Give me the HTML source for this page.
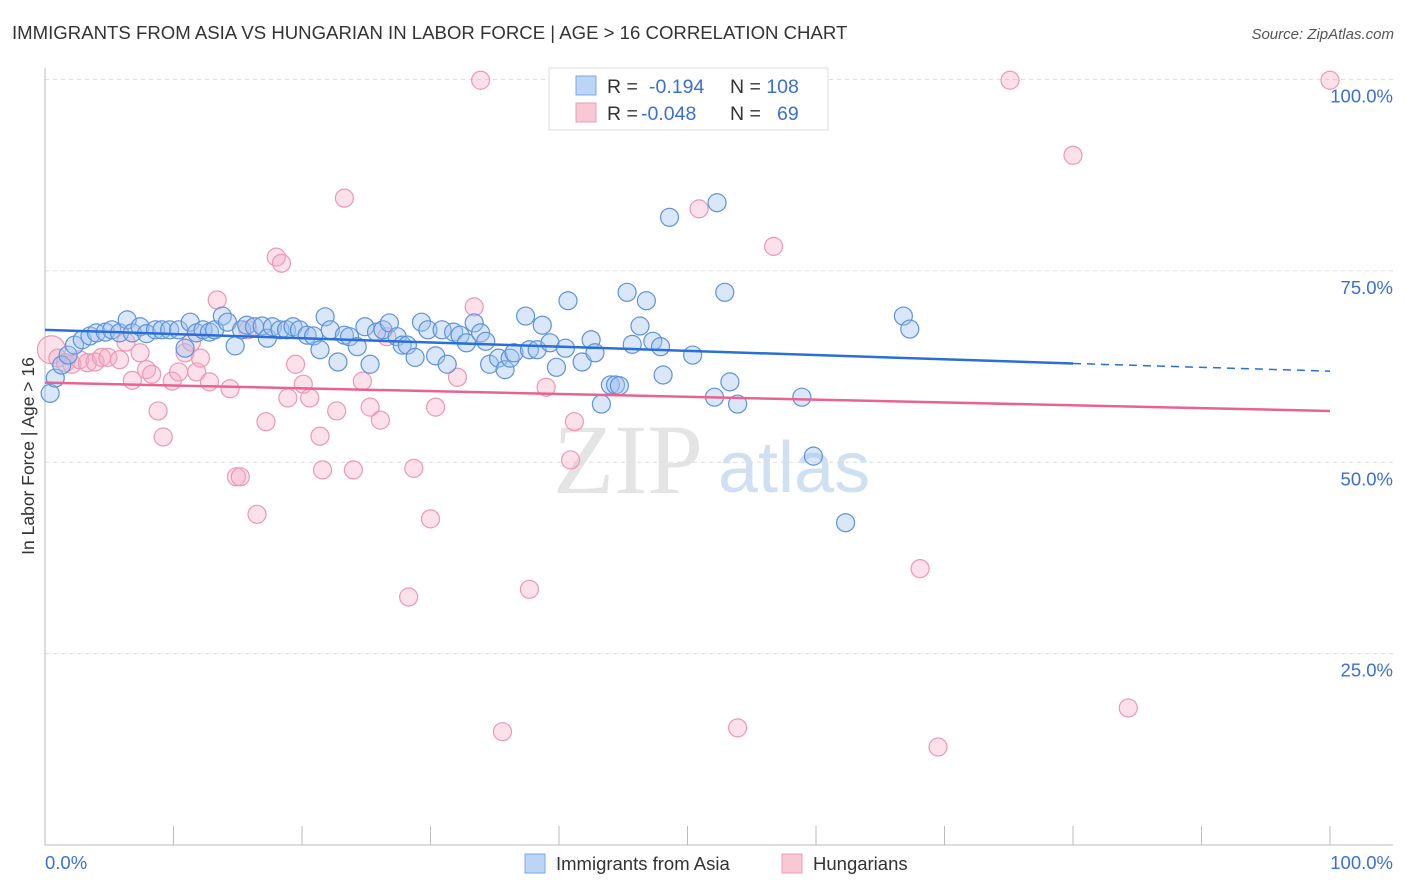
<!DOCTYPE html>
<html><head><meta charset="utf-8"><style>
body{margin:0;background:#fff;font-family:"Liberation Sans",sans-serif;}
svg{display:block}
</style></head><body>
<svg id="chart" width="1406" height="892" viewBox="0 0 1406 892" xmlns="http://www.w3.org/2000/svg">
<text x="12" y="39" font-size="18.6" fill="#333">IMMIGRANTS FROM ASIA VS HUNGARIAN IN LABOR FORCE | AGE &gt; 16 CORRELATION CHART</text>
<text x="1394" y="39" font-size="15" fill="#555" font-style="italic" text-anchor="end">Source: ZipAtlas.com</text>
<g>
<text x="553" y="493" font-size="100" font-family="Liberation Serif,serif" fill="#e4e4e4">ZIP</text>
<text x="718" y="492" font-size="72" fill="#cfe0f3">atlas</text>
</g>
<g id="grid"></g>
<g id="axes"></g>
<g id="pts"></g>
<g id="lines"></g>
<text x="34" y="456" font-size="17.5" fill="#333" text-anchor="middle" transform="rotate(-90 34 456)">In Labor Force | Age &gt; 16</text>
<g>
<rect x="549" y="68" width="279" height="62" fill="#fff" stroke="#ddd"/>
<rect x="576" y="76" width="20" height="19" fill="#bcd5f5" stroke="#7aa7e6"/>
<rect x="576" y="103" width="20" height="19" fill="#fac7d5" stroke="#ee9bb5"/>
<text x="607" y="93" font-size="19.5" fill="#333">R = <tspan fill="#3b6fd4" x="649">-0.194</tspan></text>
<text x="730" y="93" font-size="19.5" fill="#333">N = <tspan fill="#3b6fd4">108</tspan></text>
<text x="607" y="120" font-size="19.5" fill="#333">R = <tspan fill="#3b6fd4" x="641">-0.048</tspan></text>
<text x="730" y="120" font-size="19.5" fill="#333">N = <tspan fill="#3b6fd4" x="777">69</tspan></text>
</g>
<g>
<rect x="525" y="854" width="20" height="19" fill="#bcd5f5" stroke="#7aa7e6"/>
<text x="556" y="870" font-size="18.5" fill="#333">Immigrants from Asia</text>
<rect x="782" y="854" width="20" height="19" fill="#fac7d5" stroke="#ee9bb5"/>
<text x="813" y="870" font-size="18.5" fill="#333">Hungarians</text>
</g>
</svg>
<script>
const yTicks=[100,75,50,25];
const yTickLabels=["100.0%","75.0%","50.0%","25.0%"];
const xTicks=[10,20,30,40,50,60,70,80,90,100];
const asiaX=[0.4,0.8,1.3,1.8,2.3,2.9,3.5,4.0,4.7,5.2,5.8,6.4,6.8,7.4,7.9,8.6,9.1,9.7,10.4,10.9,11.3,11.8,12.3,12.8,13.2,13.8,14.2,14.8,15.3,15.7,16.3,16.9,17.3,17.7,18.3,18.8,19.3,19.8,20.4,20.9,21.4,21.8,22.2,22.8,23.3,23.7,24.3,24.9,25.3,25.8,26.3,26.8,27.4,27.8,28.2,28.8,29.3,29.8,30.4,30.9,31.3,31.8,32.3,32.8,33.4,33.9,34.3,34.6,35.3,35.8,36.2,36.5,37.4,37.7,38.3,38.7,39.3,39.8,40.5,40.7,41.8,42.5,42.8,43.3,44.0,44.4,44.7,45.3,45.7,46.3,46.8,47.3,47.9,48.1,48.6,50.4,52.1,52.3,52.9,53.3,53.9,58.9,59.8,62.3,66.8,67.3];
const asiaY=[59.0,61.0,62.7,64.0,65.3,66.0,66.5,66.9,67.0,67.3,66.9,68.6,66.9,67.7,66.8,67.3,67.3,67.3,67.3,64.9,68.3,66.9,67.3,67.0,67.3,69.1,68.3,65.2,67.3,67.9,67.7,67.8,66.2,67.7,67.3,67.3,67.7,67.3,66.6,66.5,64.7,69.0,67.3,63.1,66.6,66.4,65.1,67.7,62.8,67.0,67.3,68.2,66.4,65.3,65.3,63.7,68.3,67.3,63.9,67.3,62.8,67.0,66.6,65.6,68.2,66.9,65.8,62.8,63.6,62.1,63.6,64.3,69.1,64.7,64.7,67.9,65.6,62.4,64.9,71.1,63.1,66.0,64.3,57.6,60.1,60.1,60.0,72.2,65.4,67.8,71.1,65.8,65.1,61.4,82.0,64.0,58.5,83.9,72.2,60.5,57.6,58.5,50.8,42.1,69.1,67.4];
const hunX=[0.5,1.0,1.6,2.1,2.7,3.3,3.9,4.4,4.9,5.8,6.3,6.8,7.4,7.9,8.3,8.8,9.2,9.9,10.4,10.9,11.4,11.8,12.1,12.8,13.4,14.4,14.9,15.2,15.8,16.5,17.2,18.0,18.4,18.9,19.5,20.1,20.6,21.4,21.6,22.7,23.3,24.0,24.7,25.3,26.1,26.6,28.3,28.7,30.0,30.4,32.1,33.4,33.9,35.6,37.7,39.0,40.9,41.2,50.9,53.9,56.7,68.1,69.5,75.1,80.0,84.3,100];
const hunY=[64.7,63.6,63.0,62.8,63.4,63.0,63.1,63.7,63.7,63.4,65.7,60.7,64.3,62.1,61.5,56.7,53.3,60.6,61.8,64.3,65.7,61.8,63.6,60.5,71.2,59.6,48.1,48.1,67.3,43.2,55.3,76.8,76.0,58.4,62.8,60.2,58.4,53.4,49.0,56.7,84.5,49.0,60.6,57.2,55.5,66.4,32.4,49.2,42.6,57.2,61.1,70.3,99.9,14.8,33.4,59.8,50.3,55.3,83.1,15.3,78.2,36.1,12.8,99.9,90.1,17.9,99.9];
const asiaTrend=[67.3,62.9,61.9]; // at x=0, 80, 100
const hunTrend=[60.4,56.7]; // at x=0, 100

const NS="http://www.w3.org/2000/svg";
const X=v=>45+v*12.85;
const Y=v=>845-v*7.655;
function mk(tag,attrs,parent){const e=document.createElementNS(NS,tag);for(const k in attrs)e.setAttribute(k,attrs[k]);parent.appendChild(e);return e;}
const grid=document.getElementById('grid'),axes=document.getElementById('axes'),pts=document.getElementById('pts'),lines=document.getElementById('lines');
yTicks.forEach((t,i)=>{
  const l=mk('line',{x1:45,x2:1393,y1:Y(t),y2:Y(t),stroke:'#ddd','stroke-dasharray':'4,4'},grid);
  
  
  const tx=mk('text',{x:1393,y:Y(t)+23,'font-size':18.5,fill:'#3b6fd4','text-anchor':'end'},grid);
  tx.textContent=yTickLabels[i];
  
  
});
let a=mk('line',{x1:45,x2:45,y1:68,y2:845,stroke:'#bbb'},axes);


a=mk('line',{x1:45,x2:1393,y1:845,y2:845,stroke:'#bbb'},axes);


xTicks.forEach(t=>{
  const l=mk('line',{x1:X(t),x2:X(t),y1:826,y2:845,stroke:'#bbb'},axes);
  
  
});
let t0=mk('text',{x:45,y:869,'font-size':18.5,fill:'#3b6fd4'},axes);t0.textContent='0.0%';


let t1=mk('text',{x:1393,y:869,'font-size':18.5,fill:'#3b6fd4','text-anchor':'end'},axes);t1.textContent='100.0%';


hunX.forEach((x,i)=>{
  const c=mk('circle',{cx:X(x),cy:Y(hunY[i]),r:i===0?14:9,fill:'rgba(246,170,195,0.35)',stroke:'#ec98b3','stroke-width':1.2},pts);
  
  
});
asiaX.forEach((x,i)=>{
  const c=mk('circle',{cx:X(x),cy:Y(asiaY[i]),r:9,fill:'rgba(160,195,240,0.4)',stroke:'#5d92de','stroke-width':1.2},pts);
  
  
});
let l=mk('line',{x1:X(0),y1:Y(asiaTrend[0]),x2:X(80),y2:Y(asiaTrend[1]),stroke:'#2a6fd6','stroke-width':2.5},lines);


l=mk('line',{x1:X(80),y1:Y(asiaTrend[1]),x2:X(100),y2:Y(asiaTrend[2]),stroke:'#2a6fd6','stroke-width':1.5,'stroke-dasharray':'8,6'},lines);


l=mk('line',{x1:X(0),y1:Y(hunTrend[0]),x2:X(100),y2:Y(hunTrend[1]),stroke:'#e8648f','stroke-width':2.5},lines);


</script>
</body></html>
